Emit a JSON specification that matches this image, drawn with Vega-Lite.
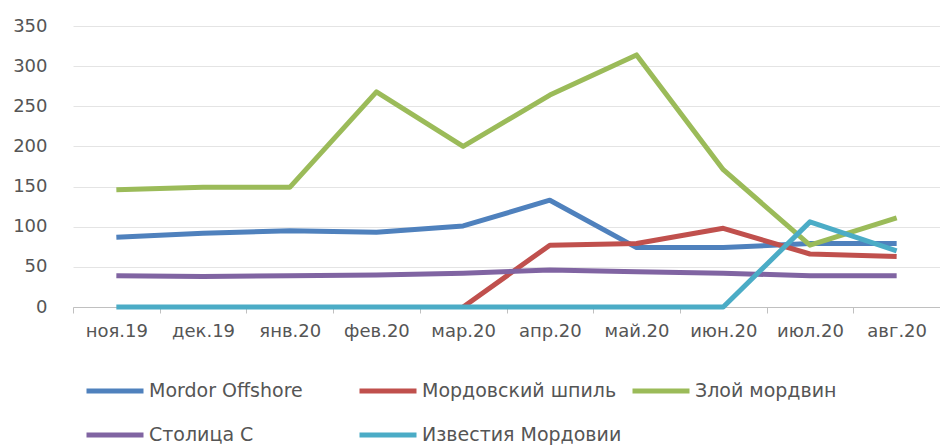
{
  "$schema": "https://vega.github.io/schema/vega-lite/v6.json",
  "width": 867,
  "height": 281,
  "autosize": "none",
  "padding": {"left": 73, "top": 26, "right": 0, "bottom": 139},
  "background": "white",
  "config": {"view": {"stroke": null}},
  "data": {
    "values": [
      {"series": "Mordor Offshore", "month": "ноя.19", "value": 87},
      {"series": "Mordor Offshore", "month": "дек.19", "value": 92},
      {"series": "Mordor Offshore", "month": "янв.20", "value": 95},
      {"series": "Mordor Offshore", "month": "фев.20", "value": 93},
      {"series": "Mordor Offshore", "month": "мар.20", "value": 101},
      {"series": "Mordor Offshore", "month": "апр.20", "value": 133},
      {"series": "Mordor Offshore", "month": "май.20", "value": 74},
      {"series": "Mordor Offshore", "month": "июн.20", "value": 74},
      {"series": "Mordor Offshore", "month": "июл.20", "value": 79},
      {"series": "Mordor Offshore", "month": "авг.20", "value": 79},
      {"series": "Мордовский шпиль", "month": "мар.20", "value": 0},
      {"series": "Мордовский шпиль", "month": "апр.20", "value": 77},
      {"series": "Мордовский шпиль", "month": "май.20", "value": 79},
      {"series": "Мордовский шпиль", "month": "июн.20", "value": 98},
      {"series": "Мордовский шпиль", "month": "июл.20", "value": 66},
      {"series": "Мордовский шпиль", "month": "авг.20", "value": 63},
      {"series": "Злой мордвин", "month": "ноя.19", "value": 146},
      {"series": "Злой мордвин", "month": "дек.19", "value": 149},
      {"series": "Злой мордвин", "month": "янв.20", "value": 149},
      {"series": "Злой мордвин", "month": "фев.20", "value": 268},
      {"series": "Злой мордвин", "month": "мар.20", "value": 200},
      {"series": "Злой мордвин", "month": "апр.20", "value": 264},
      {"series": "Злой мордвин", "month": "май.20", "value": 314},
      {"series": "Злой мордвин", "month": "июн.20", "value": 171},
      {"series": "Злой мордвин", "month": "июл.20", "value": 77},
      {"series": "Злой мордвин", "month": "авг.20", "value": 111},
      {"series": "Столица С", "month": "ноя.19", "value": 39},
      {"series": "Столица С", "month": "дек.19", "value": 38},
      {"series": "Столица С", "month": "янв.20", "value": 39},
      {"series": "Столица С", "month": "фев.20", "value": 40},
      {"series": "Столица С", "month": "мар.20", "value": 42},
      {"series": "Столица С", "month": "апр.20", "value": 46},
      {"series": "Столица С", "month": "май.20", "value": 44},
      {"series": "Столица С", "month": "июн.20", "value": 42},
      {"series": "Столица С", "month": "июл.20", "value": 39},
      {"series": "Столица С", "month": "авг.20", "value": 39},
      {"series": "Известия Мордовии", "month": "ноя.19", "value": 0},
      {"series": "Известия Мордовии", "month": "дек.19", "value": 0},
      {"series": "Известия Мордовии", "month": "янв.20", "value": 0},
      {"series": "Известия Мордовии", "month": "фев.20", "value": 0},
      {"series": "Известия Мордовии", "month": "мар.20", "value": 0},
      {"series": "Известия Мордовии", "month": "апр.20", "value": 0},
      {"series": "Известия Мордовии", "month": "май.20", "value": 0},
      {"series": "Известия Мордовии", "month": "июн.20", "value": 0},
      {"series": "Известия Мордовии", "month": "июл.20", "value": 106},
      {"series": "Известия Мордовии", "month": "авг.20", "value": 70}
    ]
  },
  "mark": {"type": "line", "strokeWidth": 5, "strokeJoin": "round"},
  "encoding": {
    "x": {
      "field": "month",
      "type": "ordinal",
      "sort": ["ноя.19", "дек.19", "янв.20", "фев.20", "мар.20", "апр.20", "май.20", "июн.20", "июл.20", "авг.20"],
      "scale": {"type": "band", "paddingInner": 0, "paddingOuter": 0},
      "axis": {
        "title": null,
        "labelAngle": 0,
        "tickBand": "extent",
        "grid": false,
        "domainColor": "#c0c0c0",
        "tickColor": "#c0c0c0",
        "tickSize": 6,
        "labelFont": "DejaVu Sans",
        "labelFontSize": 18,
        "labelColor": "#555555",
        "labelPadding": 9,
        "labelOverlap": false
      }
    },
    "y": {
      "field": "value",
      "type": "quantitative",
      "scale": {"domain": [0, 350]},
      "axis": {
        "title": null,
        "values": [0, 50, 100, 150, 200, 250, 300, 350],
        "domain": false,
        "ticks": false,
        "gridColor": "#e4e4e4",
        "labelFont": "DejaVu Sans",
        "labelFontSize": 18,
        "labelColor": "#555555",
        "labelPadding": 26
      }
    },
    "color": {
      "field": "series",
      "type": "nominal",
      "scale": {
        "domain": ["Mordor Offshore", "Мордовский шпиль", "Злой мордвин", "Столица С", "Известия Мордовии"],
        "range": ["#4f81bd", "#c0504d", "#9bbb59", "#8064a2", "#4bacc6"]
      },
      "legend": {
        "title": null,
        "orient": "none",
        "legendX": 30,
        "legendY": 353,
        "direction": "horizontal",
        "columns": 3,
        "gridAlign": "all",
        "columnPadding": 0,
        "rowPadding": 22,
        "symbolType": "M-3,0H3",
        "symbolSize": 361,
        "symbolStrokeWidth": 5,
        "labelOffset": 22,
        "labelFont": "DejaVu Sans",
        "labelFontSize": 19,
        "labelColor": "#555555",
        "labelLimit": 300
      }
    }
  }
}
